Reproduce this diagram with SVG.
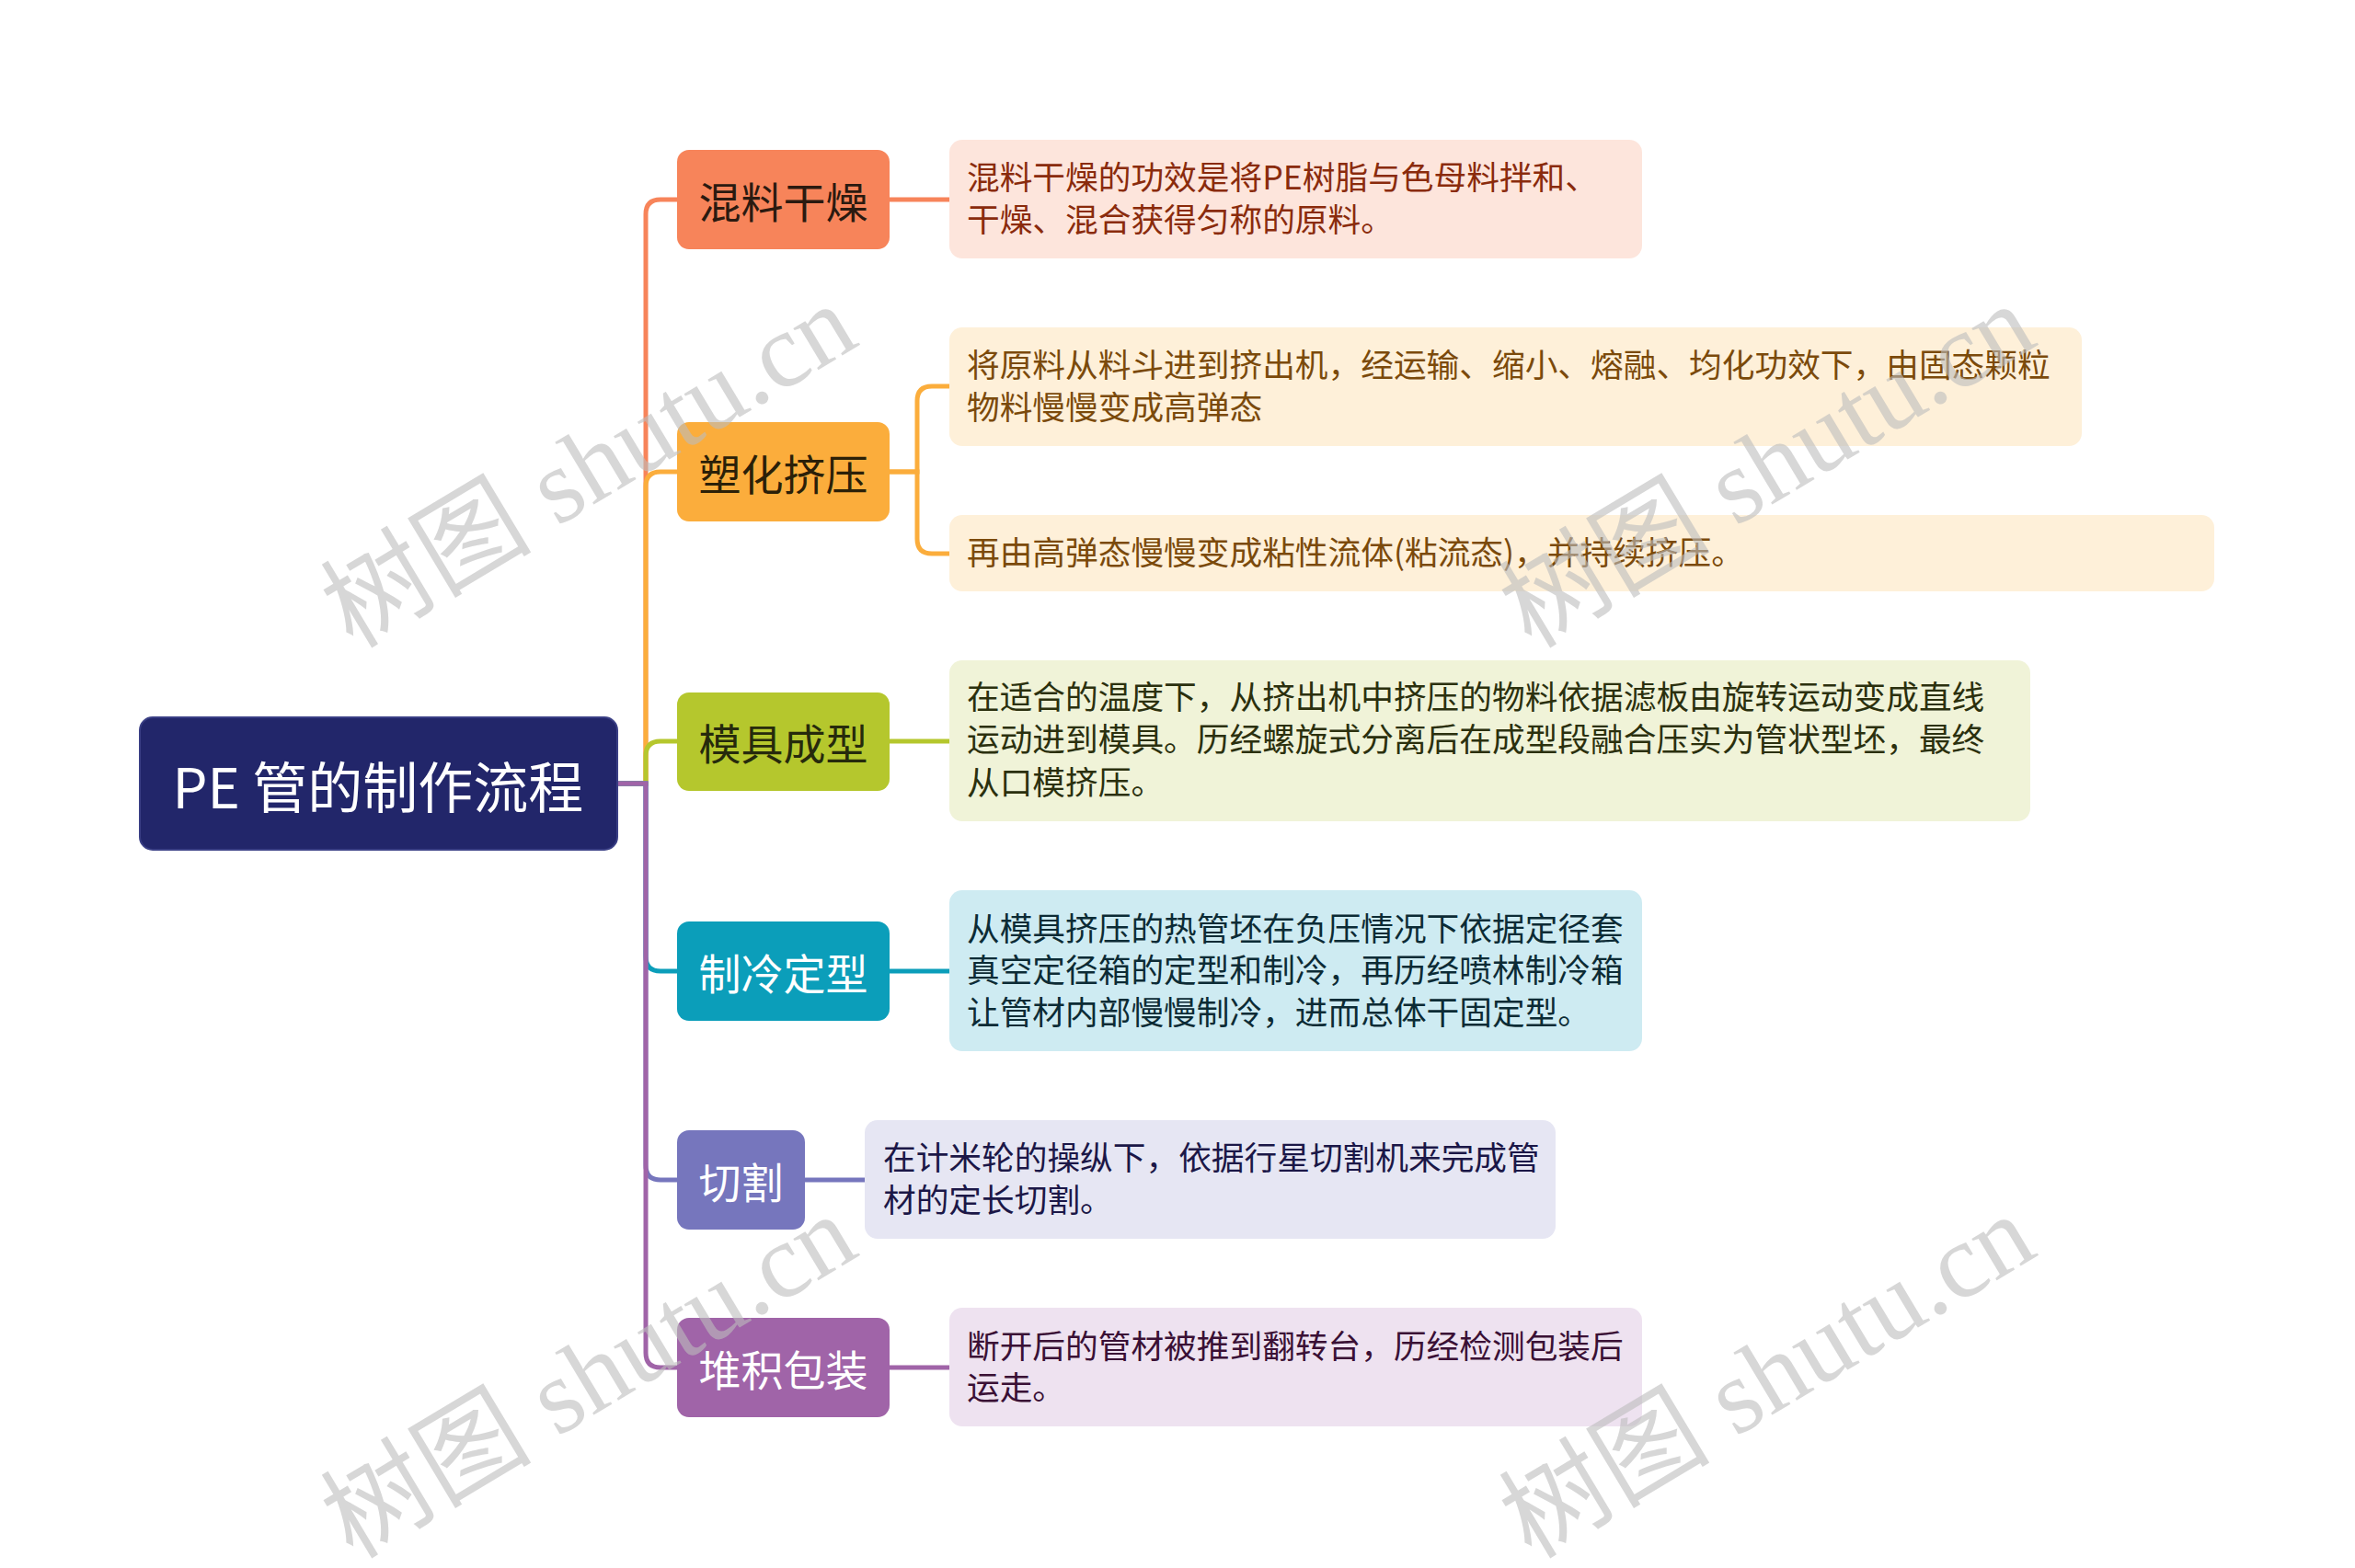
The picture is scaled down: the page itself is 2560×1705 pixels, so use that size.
<svg xmlns="http://www.w3.org/2000/svg" width="2560" height="1705" viewBox="0 0 2560 1705">
<style>
text{font-family:"Noto Sans CJK SC","Noto Sans",sans-serif}
.c{fill:none;stroke-width:5;stroke-linecap:round}
.m{font-size:46px;text-anchor:middle;dominant-baseline:central}
.d{font-size:35.7px}
.wm{font-family:"Liberation Serif","Noto Sans CJK SC",serif;font-size:115px;fill:#bdbdbd;opacity:0.6;text-anchor:middle}
</style>
<rect width="2560" height="1705" fill="#ffffff"/>
<g id="connectors">
<path class="c" stroke="#F7845A" d="M671 852H702V233Q702 217 718 217H736"/>
<path class="c" stroke="#FBAD3C" d="M671 852H702V529Q702 513 718 513H736"/>
<path class="c" stroke="#B5C72D" d="M671 852H702V822Q702 806 718 806H736"/>
<path class="c" stroke="#0B9EBA" d="M671 852H702V1040Q702 1056 718 1056H736"/>
<path class="c" stroke="#7676BD" d="M671 852H702V1267Q702 1283 718 1283H736"/>
<path class="c" stroke="#A064A8" d="M671 852H702V1471Q702 1487 718 1487H736"/>
<path class="c" stroke="#F7845A" d="M967 217H1032"/>
<path class="c" stroke="#FBAD3C" d="M967 513H997V436Q997 420 1013 420H1032"/>
<path class="c" stroke="#FBAD3C" d="M967 513H997V586Q997 602 1013 602H1032"/>
<path class="c" stroke="#B5C72D" d="M967 806H1032"/>
<path class="c" stroke="#0B9EBA" d="M967 1056H1032"/>
<path class="c" stroke="#7676BD" d="M875 1283H940"/>
<path class="c" stroke="#A064A8" d="M967 1487H1032"/>
</g>
<g id="root">
<rect x="152" y="780" width="519" height="144" rx="14" fill="#22266A" stroke="#3a3f85" stroke-width="2"/>
<text x="411" y="852" font-size="60" fill="#ffffff" text-anchor="middle" dominant-baseline="central">PE 管的制作流程</text>
</g>
<g id="n1">
<rect x="736" y="163" width="231" height="108" rx="13" fill="#F7845A"/>
<text class="m" x="851.5" y="217" fill="#2b1a10">混料干燥</text>
</g>
<g id="n2">
<rect x="736" y="459" width="231" height="108" rx="13" fill="#FBAD3C"/>
<text class="m" x="851.5" y="513" fill="#2b2008">塑化挤压</text>
</g>
<g id="n3">
<rect x="736" y="753" width="231" height="107" rx="13" fill="#B5C72D"/>
<text class="m" x="851.5" y="806" fill="#262a0c">模具成型</text>
</g>
<g id="n4">
<rect x="736" y="1002" width="231" height="108" rx="13" fill="#0B9EBA"/>
<text class="m" x="851.5" y="1056" fill="#ffffff">制冷定型</text>
</g>
<g id="n5">
<rect x="736" y="1229" width="139" height="108" rx="13" fill="#7676BD"/>
<text class="m" x="805.5" y="1283" fill="#ffffff">切割</text>
</g>
<g id="n6">
<rect x="736" y="1433" width="231" height="108" rx="13" fill="#A064A8"/>
<text class="m" x="851.5" y="1487" fill="#ffffff">堆积包装</text>
</g>
<g id="d1">
<rect x="1032" y="152" width="753" height="129" rx="14" fill="#FDE5DC"/>
<text class="d" fill="#8A2B0C"><tspan x="1051" y="206">混料干燥的功效是将PE树脂与色母料拌和、</tspan><tspan x="1051" y="252">干燥、混合获得匀称的原料。</tspan></text>
</g>
<g id="d2a">
<rect x="1032" y="356" width="1231" height="129" rx="14" fill="#FEF0D9"/>
<text class="d" fill="#7B4A0B"><tspan x="1051" y="410">将原料从料斗进到挤出机，经运输、缩小、熔融、均化功效下，由固态颗粒</tspan><tspan x="1051" y="456">物料慢慢变成高弹态</tspan></text>
</g>
<g id="d2b">
<rect x="1032" y="560" width="1375" height="83" rx="14" fill="#FEF0D9"/>
<text class="d" fill="#7B4A0B" x="1051" y="614">再由高弹态慢慢变成粘性流体(粘流态)，并持续挤压。</text>
</g>
<g id="d3">
<rect x="1032" y="718" width="1175" height="175" rx="14" fill="#F0F3D8"/>
<text class="d" fill="#2B300E"><tspan x="1051" y="771">在适合的温度下，从挤出机中挤压的物料依据滤板由旋转运动变成直线</tspan><tspan x="1051" y="817">运动进到模具。历经螺旋式分离后在成型段融合压实为管状型坯，最终</tspan><tspan x="1051" y="864">从口模挤压。</tspan></text>
</g>
<g id="d4">
<rect x="1032" y="968" width="753" height="175" rx="14" fill="#CEEBF2"/>
<text class="d" fill="#0C2B35"><tspan x="1051" y="1023">从模具挤压的热管坯在负压情况下依据定径套</tspan><tspan x="1051" y="1068">真空定径箱的定型和制冷，再历经喷林制冷箱</tspan><tspan x="1051" y="1114">让管材内部慢慢制冷，进而总体干固定型。</tspan></text>
</g>
<g id="d5">
<rect x="940" y="1218" width="751" height="129" rx="14" fill="#E6E6F3"/>
<text class="d" fill="#1B1747"><tspan x="960" y="1272">在计米轮的操纵下，依据行星切割机来完成管</tspan><tspan x="960" y="1318">材的定长切割。</tspan></text>
</g>
<g id="d6">
<rect x="1032" y="1422" width="753" height="129" rx="14" fill="#EEE2F0"/>
<text class="d" fill="#3A1035"><tspan x="1051" y="1477">断开后的管材被推到翻转台，历经检测包装后</tspan><tspan x="1051" y="1522">运走。</tspan></text>
</g>
<g id="watermarks">
<text class="wm" transform="translate(660 540) rotate(-31)">树图 shutu.cn</text>
<text class="wm" transform="translate(1941 540) rotate(-31)">树图 shutu.cn</text>
<text class="wm" transform="translate(660 1530) rotate(-31)">树图 shutu.cn</text>
<text class="wm" transform="translate(1941 1530) rotate(-31)">树图 shutu.cn</text>
</g>
</svg>
